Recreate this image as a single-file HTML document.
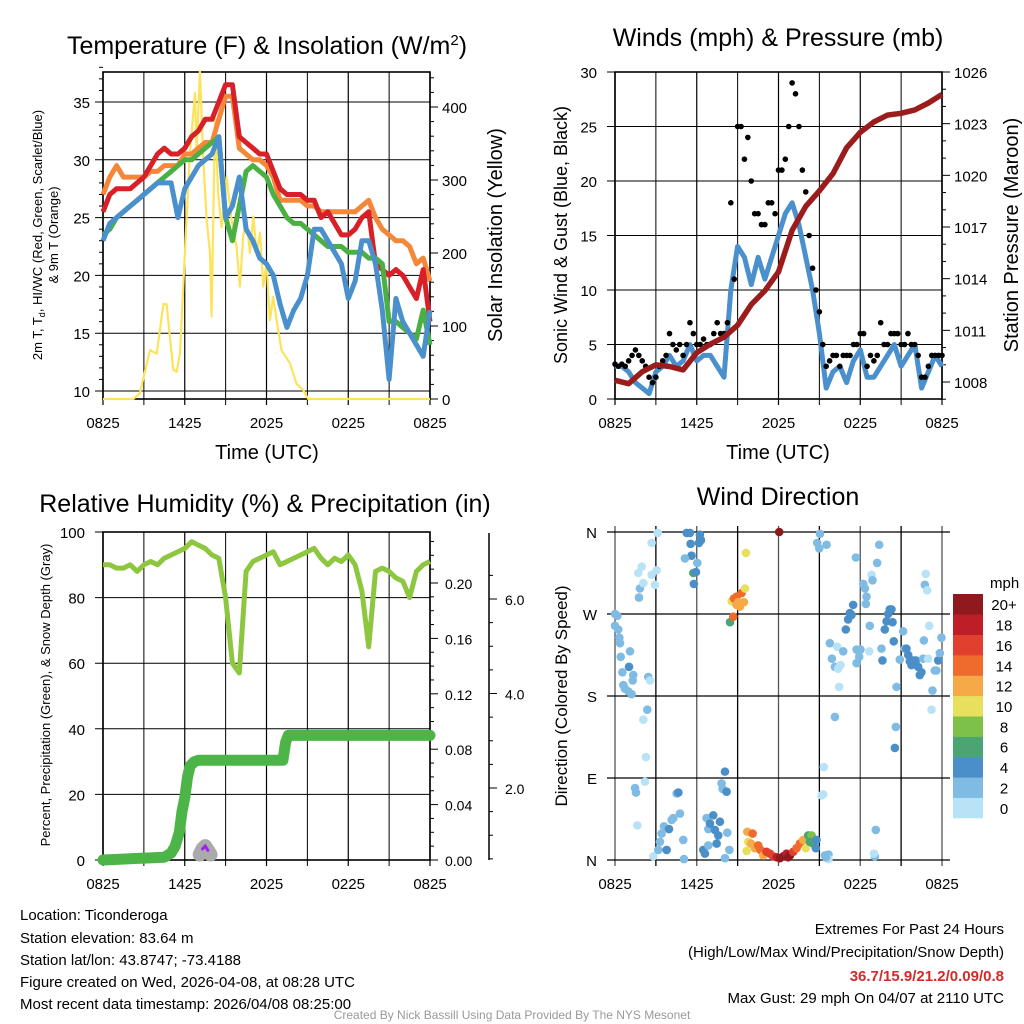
<!DOCTYPE html>
<html><head><meta charset="utf-8"><title>Mesonet station charts, Ticonderoga</title>
<style>
html,body{margin:0;padding:0;background:#fff;}
svg{display:block;font-family:"Liberation Sans",Arial,sans-serif;}
</style></head>
<body>
<svg id="root" width="1024" height="1024" viewBox="0 0 1024 1024" xmlns="http://www.w3.org/2000/svg">
<text x="267" y="54" font-size="25" text-anchor="middle">Temperature (F) &amp; Insolation (W/m<tspan dy="-9" font-size="15">2</tspan><tspan dy="9">)</tspan></text>
<text x="778" y="46" font-size="25" text-anchor="middle">Winds (mph) &amp; Pressure (mb)</text>
<text x="265" y="512" font-size="25" text-anchor="middle">Relative Humidity (%) &amp; Precipitation (in)</text>
<text x="778" y="505" font-size="25" text-anchor="middle">Wind Direction</text>

<text x="267" y="459" font-size="20" text-anchor="middle">Time (UTC)</text>
<text x="778" y="459" font-size="20" text-anchor="middle">Time (UTC)</text>
<text transform="translate(42,235) rotate(-90)" font-size="13" text-anchor="middle">2m T, T<tspan dy="3" font-size="9">d</tspan><tspan dy="-3">, HI/WC (Red, Green, Scarlet/Blue)</tspan></text>
<text transform="translate(58,235) rotate(-90)" font-size="13" text-anchor="middle">&amp; 9m T (Orange)</text>
<text transform="translate(502,235) rotate(-90)" font-size="20" text-anchor="middle">Solar Insolation (Yellow)</text>
<text transform="translate(567,235) rotate(-90)" font-size="18" text-anchor="middle">Sonic Wind &amp; Gust (Blue, Black)</text>
<text transform="translate(1018,235) rotate(-90)" font-size="20" text-anchor="middle">Station Pressure (Maroon)</text>
<text transform="translate(50,695) rotate(-90)" font-size="13" text-anchor="middle">Percent, Precipitation (Green), &amp; Snow Depth (Gray)</text>
<text transform="translate(567,696) rotate(-90)" font-size="17" text-anchor="middle">Direction (Colored By Speed)</text>

<g font-size="15">
<text x="20" y="920">Location: Ticonderoga</text>
<text x="20" y="943">Station elevation: 83.64 m</text>
<text x="20" y="965">Station lat/lon: 43.8747; -73.4188</text>
<text x="20" y="987">Figure created on Wed, 2026-04-08, at 08:28 UTC</text>
<text x="20" y="1009">Most recent data timestamp: 2026/04/08 08:25:00</text>
</g>
<g font-size="15" text-anchor="end">
<text x="1004" y="934">Extremes For Past 24 Hours</text>
<text x="1004" y="957">(High/Low/Max Wind/Precipitation/Snow Depth)</text>
<text x="1004" y="981" fill="#d42a2a" font-weight="bold">36.7/15.9/21.2/0.09/0.8</text>
<text x="1004" y="1003">Max Gust: 29 mph On 04/07 at 2110 UTC</text>
</g>
<text x="512" y="1019" font-size="12" fill="#999" text-anchor="middle">Created By Nick Bassill Using Data Provided By The NYS Mesonet</text>
</svg>
<script>
// ---------- data ----------
var timeLabels = ["0825","1425","2025","0225","0825"];
var temp2m = [25.5,27,27.5,27.5,27.5,28,28.5,29.5,30.5,31,30.5,30.5,31,32,32.5,33.5,33.5,35,36.5,36.5,32,31.5,31,30.5,30.5,29,27.5,27,27,27,26.5,26.5,25,25.5,24.5,23.5,23.5,24,25,25.5,21,20.5,20,20.5,20,19,18,20.5,16];
var temp9m = [27,28.5,29.5,28.5,28.5,28.5,28.5,29,29,29.5,29.5,29.5,30.5,30.5,31,31.5,31.5,33.5,35.5,35.5,31,30.5,30,30,29.5,28.5,26.5,26.5,26.5,26.5,26,26,25.5,25.5,25.5,25.5,25.5,25.5,26,26.5,25,24,23.5,23,23,22.5,21,21.5,19.5];
var heatIndex = [23.5,24,25,25.5,26,26.5,27,27.5,28,28.5,29,29.5,30,30,30.5,31,31.5,32,25,23,26,29,29.5,29,28.5,27,26,25,24.5,24.5,24,23.5,23,22.5,22.5,22.5,22,22,22,21.5,21.5,21,16,16,15.5,15,14.5,17,14];
var dewpoint = [23,24.5,25,25.5,26,26.5,27,27.5,28,28,28,25,27.5,28.5,29.5,30,30.5,32,25,26,28.5,24,23,21.5,21,20,17.5,15.5,17,18,20,24,24,23,22,21,18,19.5,23,23,21,17,11,18,16,15,14,13,17];
var solarHours = [0,2.22,2.71,2.96,3.45,3.94,4.43,4.67,4.91,5.16,5.40,5.65,6.01,6.38,6.75,6.87,7.11,7.36,7.60,7.85,7.97,8.22,8.46,8.70,9.07,9.44,9.80,10.05,10.29,10.54,10.78,11.03,11.27,11.52,11.76,12.0,12.25,12.49,12.74,13.1,13.72,14.2,14.69,15.06,24];
var solarValues = [0,0,8,28,67,62,130,130,85,40,37,62,200,337,419,337,449,328,246,200,113,383,280,235,304,246,209,154,223,246,200,250,200,228,154,186,108,140,108,67,49,21,12,0,0];
var windSpeed = [3,3,2.5,1.5,1,0.5,2.5,3,4,3,3.5,5,3.5,4,4,3,2,10,14,13,10.5,13,11,13,15,17,18,16,13,10,6,1,2.5,3,1.5,3.5,4.5,2,2,3,4,5,3,4,5,1,2.5,4,3];
var windGust = [3.2,3.2,3.5,4.5,3.5,2,2,3.5,6,4.5,4,7,5,5.5,5,7,6,18,25,22,20,17,16,18,21,22,29,25,19,12,8,3,4,3,4,5,6,3,3.5,7,5,6,5,6,5,2,3,4,4];
var windGust2 = [3,3,4,4,3,1.5,3,4,5,5,5,6,5,5,6,6,7,11,25,24,17,16,18,17,21,25,28,21,15,10,5,3.5,4,4,4,5,6,4,4,5,6,6,5,5,4,2,4,4];
var pressure = [1008.1,1007.9,1008.6,1009,1008.9,1008.7,1009.7,1010.2,1010.6,1011.3,1012.5,1013.3,1014.4,1016.8,1018.2,1019.1,1020.1,1021.6,1022.5,1023.1,1023.5,1023.6,1023.8,1024.2,1024.7];
var relHumidity = [90,90,89,89,90,88,90,91,90,92,93,94,95,97,96,95,93,92,80,60,57,88,91,92,93,94,90,91,92,93,94,95,92,90,92,91,93,90,82,65,88,89,88,86,85,80,88,90,91];
var precipHours = [0,4.5,5,5.3,5.6,5.8,6,6.2,6.4,6.7,7,13.2,13.4,13.6,24];
var precipValues = [0,0.002,0.005,0.01,0.02,0.035,0.045,0.06,0.068,0.071,0.072,0.072,0.085,0.09,0.09];
var snowHours = [7.1,7.3,7.5,7.7,7.9];
var snowValues = [0.004,0.008,0.01,0.007,0.004];
var dirHours = [0,0.17,0,0.24,0.32,0.37,0.42,1.10,1.03,0.54,1.34,1.30,0.61,0.73,0.98,1.22,2.44,2.57,1.71,1.96,1.83,1.76,2.08,2.69,3.06,2.93,2.69,3.13,2.37,2.08,2.27,2.20,1.47,1.54,1.64,
 2.81,3.18,3.30,3.42,3.59,3.79,3.96,4.16,4.28,4.52,4.65,4.77,5.01,5.06,5.26,5.50,5.55,5.62,5.13,6.04,5.75,5.94,5.79,6.23,6.31,6.16,
 6.48,6.60,6.72,6.85,6.97,7.21,7.33,7.46,7.58,7.70,7.82,7.90,8.07,8.19,8.07,8.24,8.39,6.85,
 8.44,8.68,8.56,8.73,8.92,9.05,9.17,9.29,9.46,9.54,9.61,8.92,
 9.71,10.10,9.78,9.98,9.66,10.27,10.51,10.68,10.88,11.12,11.37,11.61,11.86,12.10,12.35,12.59,12.84,12.71,13.08,13.33,13.57,13.81,14.01,14.18,14.43,14.30,14.55,14.74,14.79,12.05,
 15.04,14.84,14.99,15.53,15.33,15.16,15.28,15.40,15.67,15.67,16.14,
 15.77,15.92,16.14,16.38,16.55,16.45,16.31,16.75,16.94,17.11,17.24,17.48,17.36,17.68,17.73,17.92,18.02,17.73,18.22,18.34,18.46,18.41,18.66,18.70,18.83,18.90,19.24,19.39,19.56,19.63,19.80,19.93,20.05,20.17,20.29,20.37,20.46,20.66,20.61,20.54,21.15,21.27,21.39,20.90,21.52,21.64,21.76,21.88,22.08,22.25,22.37,22.49,22.62,22.67,22.98,23.06,22.74,22.81,22.91,23.30,23.23,23.47,23.59,23.72,23.84,23.96,
 19.14,19.07,19.00,15.48];
var dirDegrees = [270,268,257,253,244,238,223,229,212,206,203,197,192,188,185,182,201,197,315,322,298,288,304,313,318,302,348,359,165,154,113,86,79,74,38,
 4,11,20,29,37,11,34,44,46,73,74,51,22,1,359,359,347,334,331,326,315,316,303,357,351,348,
 11,7,46,34,40,49,33,18,27,42,84,78,97,75,2,30,11,16,
 261,267,284,287,289,283,278,293,283,298,337,280,
 31,29,20,18,10,13,16,11,5,9,7,4,3,2,4,7,5,3,9,13,18,22,13,27,27,20,18,13,22,360,
 358,348,342,346,102,71,72,5,6,1,157,
 238,221,212,210,214,190,234,229,253,264,271,280,269,332,231,223,231,216,303,298,289,281,229,257,313,307,326,346,232,219,253,262,270,275,275,261,240,190,146,123,251,232,232,220,225,218,214,219,219,212,203,206,221,241,221,257,302,314,296,186,165,208,208,219,227,244,
 33,4,7,3];
var dirSpeeds = [2,2,2,2,2,2,2,2,4,2,2,2,2,2,2,2,2,0.5,0.5,0.5,2,2,0.5,0.5,0.5,0.5,0.5,0.5,2,0.5,0.5,0.5,2,2,0.5,
 0.5,2,2,2,2,4,4,2,2,2,4,2,2,2,4,4,4,4,2,2,6,4,4,4,4,4,
 4,4,2,2,4,4,4,4,4,4,2,2,4,4,2,2,2,2,
 6,14,10,14,14,12,12,14,12,10,10,12,
 12,14,10,12,10,12,14,14,12,16,16,16,18,20,20,18,20,20,16,14,14,12,10,6,8,6,6,4,4,20,
 2,2,2,2,0.5,0.5,0.5,2,2,0.5,2,
 2,2,2,0.5,0.5,0.5,0.5,2,4,4,4,4,4,2,2,2,2,2,2,2,2,2,0.5,2,0.5,2,2,2,2,4,4,4,4,4,4,4,4,2,2,4,2,2,4,2,4,4,4,4,4,4,4,4,2,2,0.5,0.5,2,0.5,0.5,2,0.5,2,2,4,2,2,
 2,2,0.5,2];
var speedLabels = ["0","2","4","6","8","10","12","14","16","18","20+"];
var speedColors = ["#b8e3f7","#80bbe4","#4a8fc8","#4aa474","#7ec14a","#e7e05c","#f6aa47","#ef6b2d","#e2402f","#be1e27","#8f1a1d"];

// ---------- helpers ----------
var NS = "http://www.w3.org/2000/svg";
var root = document.getElementById("root");
function mk(tag, attrs, parent) {
  var e = document.createElementNS(NS, tag);
  for (var k in attrs) e.setAttribute(k, attrs[k]);
  (parent || root).appendChild(e);
  return e;
}
function group(name) {
  var g = document.createElementNS(NS, "g");
  
  
  root.appendChild(g);
  return g;
}
function lin(d0, d1, r0, r1) { return function (v) { return r0 + (v - d0) * (r1 - r0) / (d1 - d0); }; }
function txt(parent, x, y, s, size, anchor) {
  var t = mk("text", {x: x, y: y, "font-size": size, "text-anchor": anchor || "middle"}, parent);
  t.textContent = s;
  return t;
}
function pathFrom(xs, ys, fx, fy) {
  var d = "";
  for (var i = 0; i < xs.length; i++) d += (i ? "L" : "M") + fx(xs[i]).toFixed(1) + "," + fy(ys[i]).toFixed(1);
  return d;
}
function halfHours(n) { var a = []; for (var i = 0; i < n; i++) a.push(i / 2); return a; }

function frame(name, x0, x1, y0, y1, yTicksL, fyL) {
  var g = group(name);
  var fx = lin(0, 24, x0, x1);
  for (var h = 0; h <= 24; h += 3) {
    mk("line", {x1: fx(h), y1: y0, x2: fx(h), y2: y1 + 6, stroke: "#000", "stroke-width": h % 6 == 0 ? 1.2 : 1}, g);
  }
  for (var i = 0; i < 5; i++) {
    var lt = txt(g, fx(i * 6), y1 + 29, timeLabels[i], 15);
    
    
  }
  yTicksL.forEach(function (v) {
    mk("line", {x1: x0 - 8, y1: fyL(v), x2: x1, y2: fyL(v), stroke: "#000", "stroke-width": 1}, g);
  });
  mk("rect", {x: x0, y: y0, width: x1 - x0, height: y1 - y0, fill: "none", stroke: "#000", "stroke-width": 1.6}, g);
  return g;
}

// ---------- Panel 1: temperature ----------
(function () {
  var X0 = 103, X1 = 430, Y0 = 72, Y1 = 399;
  var fx = lin(0, 24, X0, X1), fy = lin(10, 35, 391, 102), fs = lin(0, 400, 399, 107);
  var g = frame("temperature-chart", X0, X1, Y0, Y1, [10,15,20,25,30,35], fy);
  [10,15,20,25,30,35].forEach(function (v) { txt(g, X0 - 13, fy(v) + 6, String(v), 15, "end"); });
  for (var m = 10; m <= 38; m++) if (m % 5) mk("line", {x1: X0 - 4, y1: fy(m), x2: X0, y2: fy(m), stroke: "#000"}, g);
  for (var w = 0; w <= 440; w += 20) mk("line", {x1: X1, y1: fs(w), x2: X1 + (w % 100 ? 4 : 8), y2: fs(w), stroke: "#000"}, g);
  [0,100,200,300,400].forEach(function (v) { txt(g, X1 + 12, fs(v) + 6, String(v), 15, "start"); });
  var hh = halfHours(49);
  var p;
  p = mk("path", {d: pathFrom(solarHours, solarValues, fx, fs), fill: "none", stroke: "#fde35c", "stroke-width": 2.2, "stroke-linejoin": "round"}, g);
   
  p = mk("path", {d: pathFrom(hh, temp9m, fx, fy), fill: "none", stroke: "#f5873a", "stroke-width": 5, "stroke-linejoin": "round"}, g);
   
  p = mk("path", {d: pathFrom(hh, temp2m, fx, fy), fill: "none", stroke: "#d72027", "stroke-width": 5, "stroke-linejoin": "round"}, g);
   
  p = mk("path", {d: pathFrom(hh, heatIndex, fx, fy), fill: "none", stroke: "#4bb044", "stroke-width": 5, "stroke-linejoin": "round"}, g);
   
  p = mk("path", {d: pathFrom(hh, dewpoint, fx, fy), fill: "none", stroke: "#4a90cd", "stroke-width": 5, "stroke-linejoin": "round"}, g);
   
})();

// ---------- Panel 2: wind ----------
(function () {
  var X0 = 615, X1 = 942, Y0 = 72, Y1 = 399;
  var fx = lin(0, 24, X0, X1), fy = lin(0, 30, 399, 72), fp = lin(1008, 1026, 382, 72);
  var g = frame("wind-chart", X0, X1, Y0, Y1, [0,5,10,15,20,25,30], fy);
  [0,5,10,15,20,25,30].forEach(function (v) { txt(g, X0 - 18, fy(v) + 6, String(v), 15, "end"); });
  for (var pv = 1007; pv <= 1026; pv++) mk("line", {x1: X1, y1: fp(pv), x2: X1 + ((pv - 1008) % 3 ? 4 : 8), y2: fp(pv), stroke: "#000"}, g);
  [1008,1011,1014,1017,1020,1023,1026].forEach(function (v) { txt(g, X1 + 12, fp(v) + 6, String(v), 15, "start"); });
  var hh = halfHours(49);
  var p = mk("path", {d: pathFrom(hh, windSpeed, fx, fy), fill: "none", stroke: "#4a90cd", "stroke-width": 5, "stroke-linejoin": "round"}, g);
   
  windGust.forEach(function (v, i) {
    var c = mk("circle", {cx: fx(i / 2), cy: fy(v), r: 2.8, fill: "#000"}, g);
     
  });
  windGust2.forEach(function (v, i) {
    var c = mk("circle", {cx: fx(i / 2 + 0.25), cy: fy(v), r: 2.8, fill: "#000"}, g);
     
  });
  var hrs = []; for (var i = 0; i < pressure.length; i++) hrs.push(i);
  p = mk("path", {d: pathFrom(hrs, pressure, fx, fp), fill: "none", stroke: "#9b1c1c", "stroke-width": 5.5, "stroke-linejoin": "round"}, g);
   
})();

// ---------- Panel 3: humidity & precipitation ----------
(function () {
  var X0 = 103, X1 = 430, Y0 = 532, Y1 = 860;
  var fx = lin(0, 24, X0, X1), fy = lin(0, 100, 860, 532), fr = lin(0, 0.20, 860, 583), fsn = lin(2, 6, 788, 599);
  var g = frame("humidity-chart", X0, X1, Y0, Y1, [0,20,40,60,80,100], fy);
  [0,20,40,60,80,100].forEach(function (v) { txt(g, X0 - 18, fy(v) + 6, String(v), 15, "end"); });
  for (var k = 0; k <= 23; k++) { var v = k * 0.01; mk("line", {x1: X1, y1: fr(v), x2: X1 + (k % 4 ? 4 : 8), y2: fr(v), stroke: "#000"}, g); }
  ["0.00","0.04","0.08","0.12","0.16","0.20"].forEach(function (s) { txt(g, X1 + 15, fr(parseFloat(s)) + 6, s, 14, "start"); });
  mk("line", {x1: 489, y1: 533, x2: 489, y2: 860, stroke: "#000", "stroke-width": 1.5}, g);
  for (var s = 0.5; s <= 6.8; s += 0.5) mk("line", {x1: 489, y1: fsn(s), x2: 489 + (s % 2 ? 4 : 8), y2: fsn(s), stroke: "#000"}, g);
  ["2.0","4.0","6.0"].forEach(function (l) { txt(g, 505, fsn(parseFloat(l)) + 6, l, 14, "start"); });
  var p = mk("path", {d: pathFrom(halfHours(49), relHumidity, fx, fy), fill: "none", stroke: "#8dc63f", "stroke-width": 5, "stroke-linejoin": "round"}, g);
   
  p = mk("path", {d: pathFrom(precipHours, precipValues, fx, fr), fill: "none", stroke: "#4db548", "stroke-width": 11, "stroke-linejoin": "round", "stroke-linecap": "round"}, g);
   
  p = mk("path", {d: pathFrom(snowHours, snowValues, fx, fr), fill: "none", stroke: "#aaa", "stroke-width": 14, "stroke-linejoin": "round", "stroke-linecap": "round"}, g);
   
  p = mk("path", {d: pathFrom(snowHours.slice(1, 4), snowValues.slice(1, 4), fx, fr), fill: "none", stroke: "#a020f0", "stroke-width": 3, "stroke-linecap": "round"}, g);
   
})();

// ---------- Panel 4: wind direction ----------
(function () {
  var X0 = 615, X1 = 942, Y0 = 532, Y1 = 860;
  var fx = lin(0, 24, X0, X1), fy = lin(0, 360, 860, 532);
  var g = group("wind-direction-chart");
  for (var h = 0; h <= 24; h += 3) mk("line", {x1: fx(h), y1: Y0 - 6, x2: fx(h), y2: Y1 + 6, stroke: h % 6 ? "#000" : "#555", "stroke-width": 1.3}, g);
  var dl = ["N","E","S","W","N"];
  for (var i = 0; i < 5; i++) {
    mk("line", {x1: X0 - 8, y1: fy(i * 90), x2: X1 + 8, y2: fy(i * 90), stroke: "#000", "stroke-width": 1.3}, g);
    txt(g, X0 - 18, fy(i * 90) + 6, dl[i], 15, "end");
  }
  for (var j = 0; j < 5; j++) txt(g, fx(j * 6), Y1 + 29, timeLabels[j], 15);
  dirHours.forEach(function (hv, k) {
    var ci = Math.min(10, Math.round(dirSpeeds[k] / 2));
    var c = mk("circle", {cx: fx(hv), cy: fy(dirDegrees[k]), r: 4.3, fill: speedColors[ci]}, g);
     
  });
  var lg = group("speed-colorbar");
  var bh = 224 / 11;
  txt(lg, 990, 588, "mph", 15, "start");
  speedColors.forEach(function (col, k) {
    var y = 818 - (k + 1) * bh;
    var r = mk("rect", {x: 953, y: y, width: 30, height: bh + 0.3, fill: col}, lg);
     
    txt(lg, 1004, y + bh / 2 + 6, speedLabels[k], 15, "middle");
  });
})();
</script>
</body></html>
